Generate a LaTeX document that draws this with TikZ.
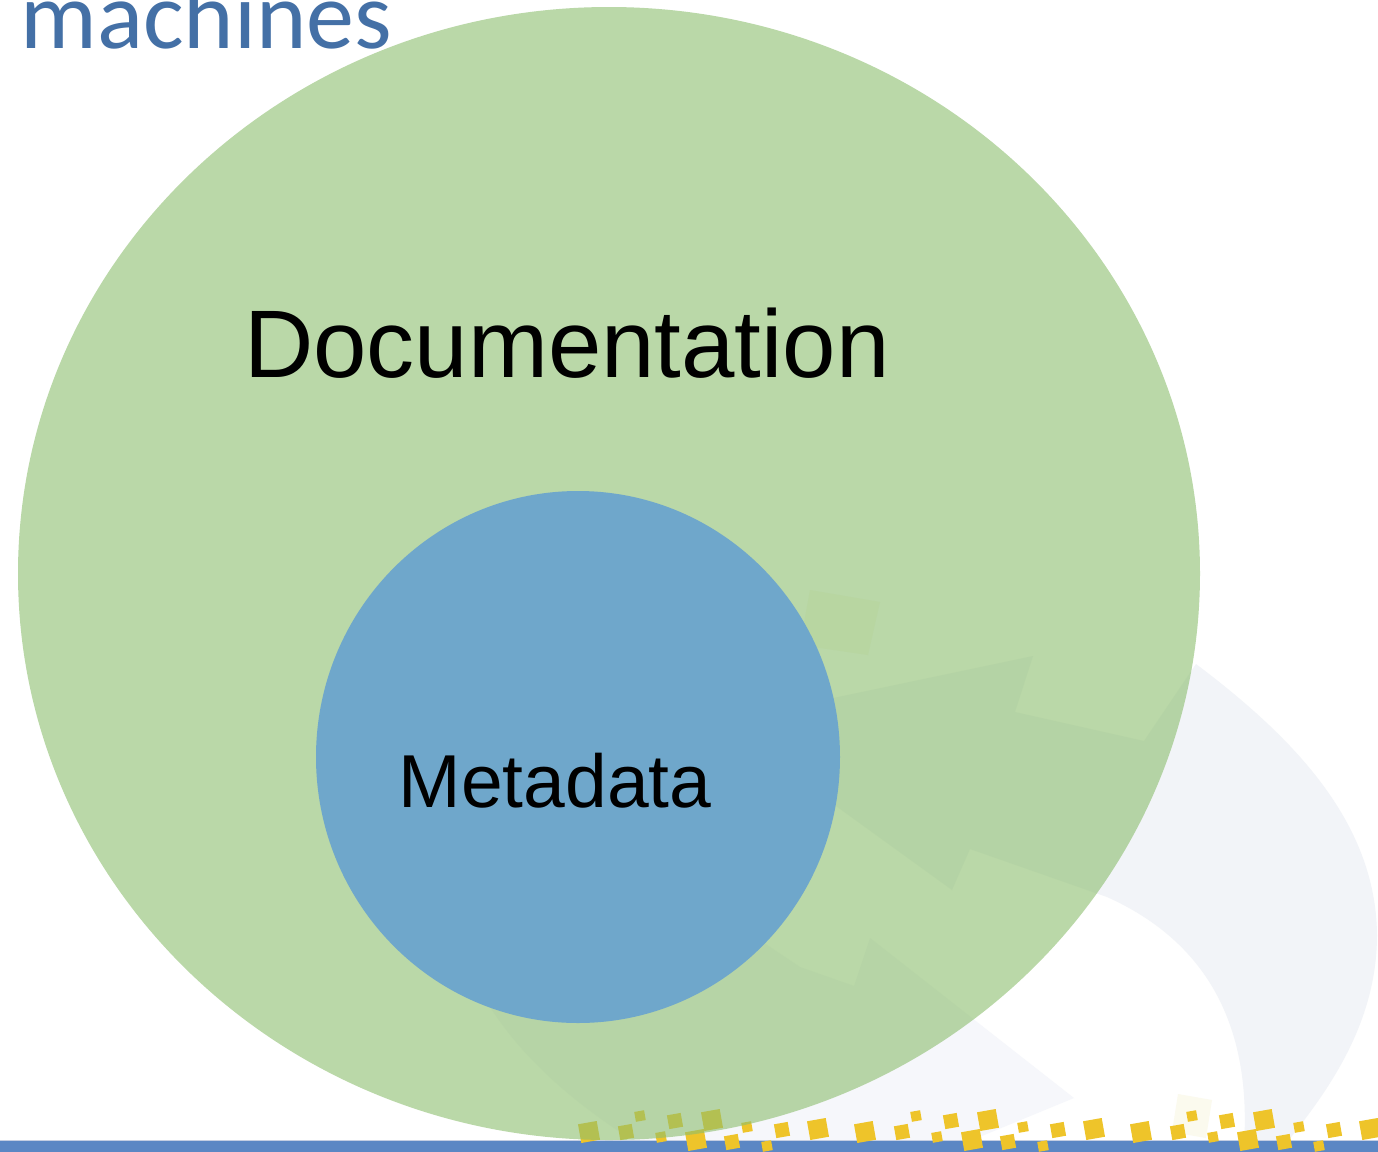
\documentclass[tikz,border=0pt]{standalone}
\usepackage{fontspec}
\setmainfont{Liberation Sans}
\newfontfamily\titlefont{Carlito}
\usetikzlibrary{shapes.geometric}

\definecolor{docgreen}{RGB}{140,190,110}
\definecolor{metablue}{RGB}{111,167,203}
\definecolor{titleblue}{RGB}{68,112,166}
\definecolor{barblue}{RGB}{91,135,196}
\definecolor{barline}{RGB}{196,206,226}
\definecolor{wmark}{RGB}{242,244,248}
\definecolor{wmarklight}{RGB}{246,247,251}
\definecolor{wmyellow}{RGB}{251,250,238}
\definecolor{chip}{RGB}{238,196,42}

\begin{document}
\begin{tikzpicture}[x=0.5pt,y=-0.5pt,
  setcircle/.style={ellipse, inner sep=0pt, draw=none},
  biglabel/.style={anchor=base, inner sep=0pt, text=black},
  chipsq/.style={fill=chip}]
\useasboundingbox (0,0) rectangle (1378,1152);
\fill[white] (0,0) rectangle (1378,1152);

% faint background logo: curved arrow bands
\fill[wmark] (1196,664) .. controls (1290,735) and (1376,820) .. (1377,935)
  .. controls (1377,1030) and (1320,1100) .. (1285,1145) -- (1244,1145)
  .. controls (1250,1050) and (1225,950) .. (1107,897) -- (970,849) -- (952,890)
  -- (800,780) -- (800,705) -- (1033,656) -- (1015,712) -- (1144,741) -- cycle;
\fill[wmarklight] (445,850) .. controls (445,980) and (520,1070) .. (640,1145)
  -- (960,1145) -- (1074,1098) -- (870,938) -- (854,986) -- (800,967)
  -- (700,900) -- cycle;
\fill[wmyellow] (810,590) -- (880,602) -- (868,655) -- (800,645) -- cycle;
\fill[wmyellow] (1178,1094) -- (1212,1100) -- (1206,1138) -- (1172,1132) -- cycle;

% footer bar
\fill[barblue] (0,1140) rectangle (1378,1152);
\draw[barline, line width=0.6pt] (0,1140.5) -- (1378,1140.5);

% footer chips
\foreach \b in {589,865,1141} {
  \foreach \dx/\yy/\s in {0/1132/19, 37/1132/14, 51/1116/10, 72/1137/10,
                          86/1121/14, 123/1120/19, 107/1140/19, 158/1127/10,
                          143/1142/14, 178/1146/10, 193/1130/14, 229/1129/19} {
    \fill[chipsq, shift={(\b+\dx,\yy)}, rotate=10]
      (-\s/2,-\s/2) rectangle (\s/2,\s/2);
  }
}

% nested sets
\node[setcircle, fill=docgreen, fill opacity=0.6,
      minimum width=591pt, minimum height=566.5pt] (doc) at (609,573.5) {};
\node[setcircle, fill=metablue,
      minimum width=262pt, minimum height=266pt] (meta) at (578,757) {};

% labels
\node[biglabel, font=\fontsize{48}{52}\selectfont] (doclabel) at (567,377) {Documentation};
\node[biglabel, font=\fontsize{37.5}{40}\selectfont] (metalabel) at (555,807) {Metadata};

% heading fragment, running off the top edge
\node[anchor=base west, inner sep=0pt, text=titleblue,
      font=\titlefont\fontsize{48}{50}\selectfont] (heading) at (20,48) {machines};
\end{tikzpicture}
\end{document}
